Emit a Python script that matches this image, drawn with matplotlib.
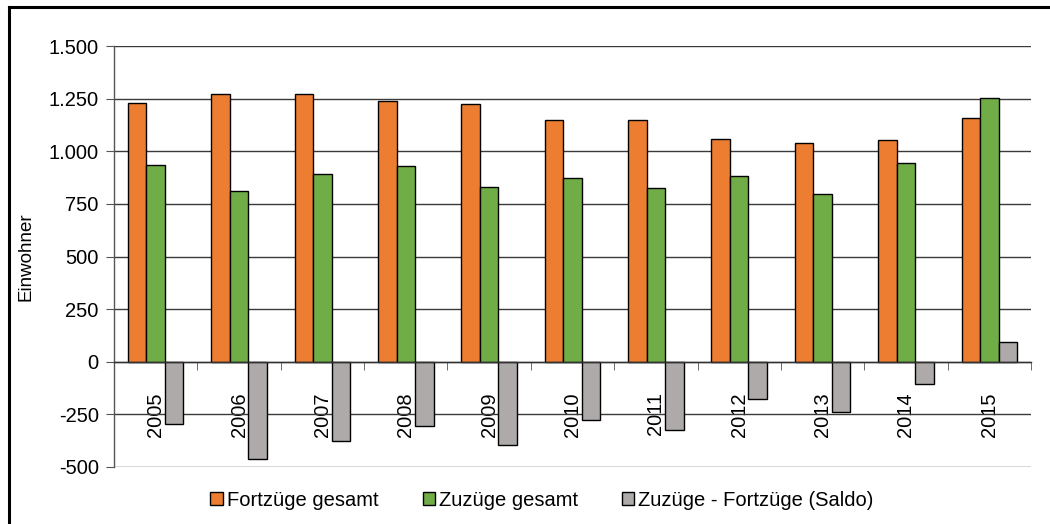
import matplotlib
matplotlib.use("Agg")
import matplotlib.pyplot as plt
import numpy as np
from matplotlib.lines import Line2D
from matplotlib.ticker import FuncFormatter, FixedLocator

plt.rcParams['font.family'] = ['Liberation Sans', 'DejaVu Sans']

years = ["2005", "2006", "2007", "2008", "2009", "2010", "2011", "2012", "2013", "2014", "2015"]
fortzuege = [1231, 1272, 1270, 1237, 1226, 1150, 1150, 1060, 1038, 1052, 1157]
zuzuege = [935, 811, 892, 930, 832, 873, 826, 883, 799, 946, 1251]
saldo = [-296, -461, -378, -307, -394, -277, -324, -177, -239, -106, 94]
series_names = ["Fortzüge gesamt", "Zuzüge gesamt", "Zuzüge - Fortzüge (Saldo)"]
colors = ["#ED7D31", "#70AD47", "#AEAAAA"]
yticks = [-500, -250, 0, 250, 500, 750, 1000, 1250, 1500]

fig = plt.figure(figsize=(10.5, 5.24), dpi=100)
ax = fig.add_axes([114/1050, 1-467/524, (1031-114)/1050, (467-46)/524])

x = np.arange(len(years))
w = 0.222
for i, (vals, name, c) in enumerate(zip([fortzuege, zuzuege, saldo], series_names, colors)):
    ax.bar(x + (i-1)*w, vals, width=w, color=c, edgecolor='black', linewidth=1.0,
           label=name, zorder=3)

ax.set_xlim(-0.5, len(years)-0.5)
ax.set_ylim(-500, 1500)
ax.set_yticks(yticks)
ax.yaxis.set_major_formatter(FuncFormatter(lambda v, p: f"{int(v):,}".replace(",", ".")))
ax.grid(axis='y', color='#3a3a3a', linewidth=1.0, zorder=0)

for s in ['top', 'right']:
    ax.spines[s].set_visible(False)
ax.spines['left'].set_color('#555555')
ax.spines['left'].set_linewidth(1.0)
ax.spines['bottom'].set_position(('data', 0))
ax.spines['bottom'].set_color('#333333')
ax.spines['bottom'].set_linewidth(1.0)
ax.spines['bottom'].set_zorder(4)

ax.set_xticks(x)
ax.set_xticklabels(years, rotation=90, fontsize=14.5)
ax.xaxis.set_minor_locator(FixedLocator(np.arange(0.5, len(years), 1.0)))
ax.tick_params(axis='x', which='major', length=0, pad=22)
ax.tick_params(axis='x', which='minor', length=6, direction='out', color='#555555')
ax.tick_params(axis='y', length=6, direction='out', color='#555555', labelsize=14.5, pad=5)

ax.set_ylabel("Einwohner", fontsize=13.5)
ax.yaxis.set_label_coords(-0.087, 0.5)

handles = [plt.Rectangle((0, 0), 1, 1, facecolor=c, edgecolor='black', linewidth=1.0) for c in colors]
fig.legend(handles, series_names, loc='center', bbox_to_anchor=(542/1050, 1-500/524),
           ncol=3, frameon=False, fontsize=14.5, handlelength=0.6, handleheight=0.6,
           handletextpad=0.2, columnspacing=2.2)

# figure border
fig.add_artist(Line2D([9/1050, 1.05], [1-7/524, 1-7/524], color='black', linewidth=2.2, transform=fig.transFigure))
fig.add_artist(Line2D([9/1050, 9/1050], [1-7/524, -0.05], color='black', linewidth=2.2, transform=fig.transFigure))

fig.savefig("out.png", dpi=100)
